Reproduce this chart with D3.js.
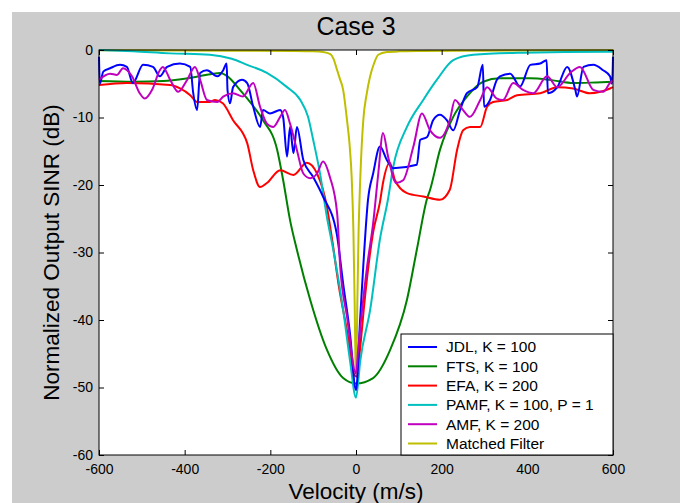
<!DOCTYPE html>
<html>
<head>
<meta charset="utf-8">
<script src="https://cdn.jsdelivr.net/npm/d3@7"></script>
<style>
	body { margin: 0; background: #fff; }
	svg { display: block; font-family: "Liberation Sans", Arial, sans-serif; }
	.axis text { font-size: 14px; fill: #000; }
	.axis line { stroke: #000; }
</style>
</head>
<body>
<div id="chart"></div>
<script>
// velocity (m/s), normalized output SINR (dB)
const xTicks = [-600, -400, -200, 0, 200, 400, 600];
const yTicks = [0, -10, -20, -30, -40, -50, -60];

const mfData = [[-600,-0.05],[-300,-0.1],[-150,-0.15],[-100,-0.2],[-77,-0.3],[-60,-0.6],[-52,-1.4],[-45,-2.8],[-38,-4.2],[-30,-5.9],[-21,-10.4],[-15,-14],[-10,-19],[-6,-27],[-3,-38],[-1,-47],[0,-48],[1,-47],[3,-38],[6,-27],[10,-19],[17,-10.4],[25,-6.5],[33,-3.9],[42,-2],[52,-0.7],[72,-0.3],[100,-0.2],[150,-0.15],[300,-0.1],[600,-0.05]];

const pamfData = [[-600,0],[-520,-0.2],[-434,-0.5],[-341,-0.7],[-290,-1.3],[-254,-2.2],[-208,-3.4],[-161,-5.5],[-130,-7.4],[-112,-9.9],[-100,-13.3],[-84,-18.3],[-68,-24.7],[-53,-29.6],[-30,-38.5],[-14,-46],[0,-51.5],[10,-46],[33,-38.5],[56,-28],[75,-22],[87,-17.3],[119,-11.4],[157,-7.4],[189,-4.4],[227,-1.5],[274,-0.7],[390,-0.4],[586,-0.25],[600,-0.25]];

const ftsData = [[-600,-4.6],[-520,-4.7],[-450,-4.6],[-394,-4.2],[-340,-3.6],[-317,-3.4],[-300,-3.9],[-271,-5.9],[-240,-8.3],[-217,-10.4],[-184,-14.8],[-170,-19.3],[-154,-25.2],[-138,-29.6],[-107,-37],[-68,-44.4],[-30,-48.6],[0,-49.4],[40,-48.6],[80,-44.4],[119,-37],[142,-29.6],[166,-22],[173,-20.7],[196,-14.8],[227,-9.9],[259,-6.9],[297,-4.7],[336,-4.2],[406,-4.2],[460,-4.5],[507,-4.9],[560,-4.8],[600,-4.7]];

const efaData = [[-600,-5.2],[-535,-4.9],[-434,-5.2],[-411,-5.7],[-387,-6.7],[-371,-7.7],[-341,-7.7],[-329,-7.4],[-311,-7.9],[-287,-10.4],[-254,-13.8],[-240,-17.8],[-224,-20.3],[-208,-19.7],[-177,-17.8],[-146,-18.5],[-115,-16.7],[-91,-18.3],[-68,-23.2],[-56,-28],[-40,-35],[-20,-42],[-5,-48],[2,-48.4],[10,-44],[18,-38.5],[40,-27],[56,-22.5],[63,-19.7],[79,-16.7],[91,-19.3],[119,-21.2],[157,-21.7],[196,-22.2],[219,-20.7],[236,-14.8],[250,-11.9],[266,-11.4],[290,-11.4],[306,-8.4],[320,-7.7],[353,-7.4],[376,-6.7],[430,-6.4],[470,-5.5],[507,-5.7],[546,-6.4],[593,-5.7],[600,-5.5]];

const jdlData = [[-600,-1],[-598,-5],[-590,-3.2],[-574,-2.7],[-551,-2.2],[-535,-2.5],[-521,-4.9],[-497,-2.2],[-474,-2.5],[-458,-3.9],[-441,-2.5],[-411,-2],[-387,-2.5],[-380,-6.4],[-371,-8.9],[-364,-3.4],[-348,-3],[-324,-3.9],[-310,-3],[-302,-2],[-300,-5.9],[-294,-7.9],[-287,-5.5],[-266,-4.4],[-254,-4.9],[-240,-8.4],[-224,-11.4],[-217,-8.9],[-201,-9.4],[-177,-8.9],[-170,-10],[-161,-15.8],[-154,-11.4],[-146,-15.3],[-138,-11.4],[-123,-16.3],[-100,-18.8],[-77,-21.7],[-45,-27.2],[-30,-34.6],[-14,-42],[0,-50.4],[10,-39.5],[17,-32],[28,-22.2],[40,-18.3],[56,-14.3],[72,-16.3],[87,-17.5],[142,-17],[150,-13.3],[166,-12.9],[180,-10.4],[196,-9.6],[212,-10.4],[227,-11.9],[243,-8.9],[259,-6.4],[283,-5.5],[296,-2.2],[299,-8.4],[313,-7.4],[329,-4.4],[336,-3.9],[360,-3.5],[383,-5.4],[407,-2.2],[430,-2],[445,-1.5],[448,-6.4],[470,-5.5],[493,-2.5],[512,-5.9],[516,-6.9],[531,-2.5],[554,-2.2],[577,-3],[593,-3.9],[598,-5],[600,-1]];

const amfData = [[-600,-4.4],[-574,-3.5],[-558,-3.7],[-544,-2.7],[-523,-3.9],[-505,-6.4],[-493,-7.2],[-476,-5.9],[-458,-3],[-451,-2.5],[-434,-4.4],[-415,-6.2],[-394,-4.4],[-376,-2.5],[-364,-4.4],[-348,-7.4],[-324,-7.7],[-310,-6.9],[-287,-6.4],[-264,-6.9],[-240,-4.9],[-224,-8.4],[-208,-10.9],[-193,-11.4],[-177,-9.9],[-166,-8.9],[-154,-10.9],[-138,-14.8],[-123,-18.3],[-107,-19],[-91,-18.3],[-77,-16.5],[-61,-18.8],[-44,-24.2],[-37,-32],[-21,-39.5],[0,-47.9],[5,-44.4],[26,-32],[40,-25.7],[52,-18.3],[63,-12.3],[75,-15.8],[94,-19.7],[110,-19.3],[134,-14.3],[154,-9.4],[173,-11.9],[196,-13],[219,-10.4],[231,-7.4],[250,-8.9],[266,-9.9],[290,-7.4],[306,-5.5],[329,-7.2],[343,-7.4],[367,-4.9],[390,-5.9],[414,-6.4],[446,-3.9],[470,-5.5],[500,-3.4],[523,-2.5],[554,-5.9],[577,-6.2],[593,-4.9],[600,-4.5]];

const seriesNames = ["JDL, K = 100", "FTS, K = 100", "EFA, K = 200", "PAMF, K = 100, P = 1", "AMF, K = 200", "Matched Filter"];
const seriesData = [jdlData, ftsData, efaData, pamfData, amfData, mfData];
const seriesColors = ["#0000ff", "#008000", "#ff0000", "#00bfbf", "#bf00bf", "#bfbf00"];
// drawing order: matched filter first, then the rest
const drawOrder = [5, 1, 2, 3, 0, 4];

const canvasWidth = 680, canvasHeight = 503;
const margin = { top: 50, right: 67, bottom: 48, left: 99 };
const width = canvasWidth - margin.left - margin.right;
const height = canvasHeight - margin.top - margin.bottom;

const x = d3.scaleLinear().domain([-600, 600]).range([0, width]);
const y = d3.scaleLinear().domain([-60, 0]).range([height, 0]);

const svg = d3.select("#chart").append("svg")
	.attr("width", canvasWidth)
	.attr("height", canvasHeight);

svg.append("rect")
	.attr("x", 12).attr("y", 12)
	.attr("width", canvasWidth - 12).attr("height", canvasHeight - 12)
	.attr("fill", "#cccccc");

const g = svg.append("g")
	.attr("transform", "translate(" + margin.left + "," + margin.top + ")");

g.append("rect")
	.attr("width", width).attr("height", height)
	.attr("fill", "#fff");

g.append("defs").append("clipPath").attr("id", "clip")
	.append("rect").attr("x", -1).attr("y", -2).attr("width", width + 2).attr("height", height + 3);

const line = d3.line()
	.curve(d3.curveMonotoneX)
	.x((d) => x(d[0]))
	.y((d) => y(d[1]));

g.append("g")
	.attr("clip-path", "url(#clip)")
	.selectAll("path")
	.data(drawOrder)
	.enter().append("path")
		.attr("d", (i) => line(seriesData[i]))
		.attr("fill", "none")
		.attr("stroke", (i) => seriesColors[i])
		.attr("stroke-width", 2)
		.attr("stroke-linejoin", "round");

// axes, ticks pointing inward on all four sides
const fmt = (d) => String(d);

g.append("g")
	.attr("class", "axis axis--x")
	.attr("transform", "translate(0," + height + ")")
	.call(d3.axisBottom(x).tickValues(xTicks).tickSizeInner(-5).tickSizeOuter(0).tickPadding(5).tickFormat(fmt))
	.call((s) => s.select(".domain").remove())
	.selectAll(".tick text").attr("dy", "1em");

g.append("g")
	.attr("class", "axis")
	.call(d3.axisTop(x).tickValues(xTicks).tickSizeInner(-5).tickSizeOuter(0).tickFormat(""))
	.call((s) => s.select(".domain").remove());

g.append("g")
	.attr("class", "axis")
	.call(d3.axisLeft(y).tickValues(yTicks).tickSizeInner(-5).tickSizeOuter(0).tickPadding(6).tickFormat(fmt))
	.call((s) => s.select(".domain").remove());

g.append("g")
	.attr("class", "axis")
	.attr("transform", "translate(" + width + ",0)")
	.call(d3.axisRight(y).tickValues(yTicks).tickSizeInner(-5).tickSizeOuter(0).tickFormat(""))
	.call((s) => s.select(".domain").remove());

g.append("rect")
	.attr("width", width).attr("height", height)
	.attr("fill", "none")
	.attr("stroke", "#000")
	.attr("stroke-width", 1);

// legend, flush with lower right corner
const legW = 212, legH = 121, rowH = 19.3;
const leg = g.append("g")
	.attr("transform", "translate(" + (width - legW) + "," + (height - legH) + ")");

leg.append("rect")
	.attr("width", legW).attr("height", legH)
	.attr("fill", "#fff")
	.attr("stroke", "#000");

const legRow = leg.selectAll("g.leg-row")
	.data(seriesNames)
	.enter().append("g")
		.attr("class", "leg-row")
		.attr("transform", (d, i) => "translate(0," + (13 + i * rowH) + ")");

legRow.append("line")
	.attr("x1", 7).attr("x2", 36)
	.attr("stroke", (d, i) => seriesColors[i])
	.attr("stroke-width", 2);

legRow.append("text")
	.attr("x", 45)
	.attr("dy", "0.35em")
	.attr("font-size", 15.5)
	.text((d) => d);

// titles
svg.append("text")
	.attr("x", margin.left + width / 2)
	.attr("y", 35)
	.attr("text-anchor", "middle")
	.attr("font-size", 25)
	.text("Case 3");

svg.append("text")
	.attr("x", margin.left + width / 2)
	.attr("y", 499)
	.attr("text-anchor", "middle")
	.attr("font-size", 22.5)
	.text("Velocity (m/s)");

svg.append("text")
	.attr("transform", "translate(59," + (margin.top + height / 2) + ") rotate(-90)")
	.attr("text-anchor", "middle")
	.attr("font-size", 22.5)
	.text("Normalized Output SINR (dB)");
</script>
</body>
</html>
